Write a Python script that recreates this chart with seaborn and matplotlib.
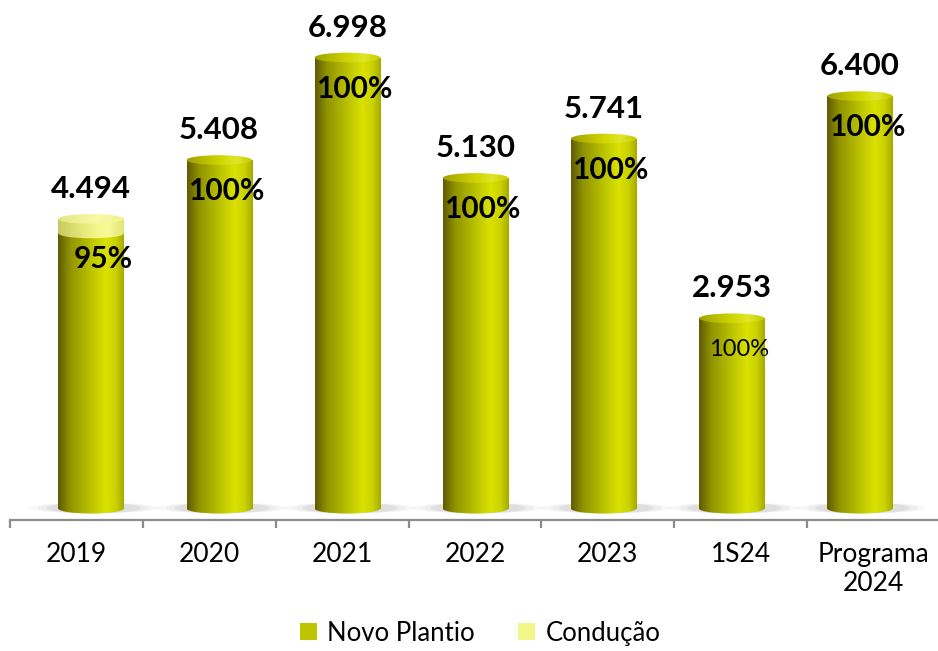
import numpy as np
import pandas as pd
import seaborn as sns
import matplotlib.pyplot as plt
from matplotlib.patches import Ellipse, Rectangle
from matplotlib.colors import LinearSegmentedColormap

categories = ["2019", "2020", "2021", "2022", "2023", "1S24", "Programa\n2024"]
totals = [4.494, 5.408, 6.998, 5.130, 5.741, 2.953, 6.400]
novo_share = [0.95, 1, 1, 1, 1, 1, 1]
total_labels = ["4.494", "5.408", "6.998", "5.130", "5.741", "2.953", "6.400"]
pct_labels = ["95%", "100%", "100%", "100%", "100%", "100%", "100%"]
pct_bold = [True, True, True, True, True, False, True]

novo = [t * s for t, s in zip(totals, novo_share)]
df = pd.DataFrame({"cat": categories, "total": totals, "novo": novo})

plt.rcParams["font.family"] = ["Lato", "DejaVu Sans"]

NOVO = "#BDC500"
COND = "#F2F78A"

body_novo = LinearSegmentedColormap.from_list(
    "bn", [(0, "#5E5A00"), (0.18, "#909300"), (0.5, "#BCC300"),
           (0.72, "#DAE200"), (0.88, "#CAD100"), (1, "#A4AA00")])
top_novo = LinearSegmentedColormap.from_list(
    "tn", [(0, "#A0A200"), (0.5, "#D0D600"), (0.75, "#E0E628"), (1, "#C4CA00")])
body_cond = LinearSegmentedColormap.from_list(
    "bc", [(0, "#C8CA60"), (0.5, "#EEF284"), (0.75, "#F8FB98"), (1, "#E2E57A")])
top_cond = LinearSegmentedColormap.from_list(
    "tc", [(0, "#E4E680"), (0.6, "#F8FAA4"), (1, "#EEF290")])

fig = plt.figure(figsize=(9.38, 6.51), dpi=100)
ax = fig.add_axes([27 / 938, 123 / 651, 897 / 938, 528 / 651])
sns.barplot(data=df, x="cat", y="total", color=COND, width=0.51, ax=ax)
sns.barplot(data=df, x="cat", y="novo", color=NOVO, width=0.51, ax=ax)

total_bars = list(ax.containers[0])
novo_bars = list(ax.containers[1])
for p in total_bars + novo_bars:
    p.set_visible(False)

eh = 0.15  # ellipse height in data units
grad = np.linspace(0, 1, 256).reshape(1, -1)


def gradient_in(patch, cmap, extent, z):
    ax.add_patch(patch)
    im = ax.imshow(grad, extent=extent, aspect="auto", cmap=cmap,
                   interpolation="bicubic", zorder=z)
    im.set_clip_path(patch)


def segment(x0, w, y0, y1, cmap, z):
    ext = [x0, x0 + w, y0 - eh, y1]
    gradient_in(Rectangle((x0, y0), w, y1 - y0, fc="none", lw=0), cmap, ext, z)
    gradient_in(Ellipse((x0 + w / 2, y0), w, eh, fc="none", lw=0), cmap, ext, z)


for i, (tb, nb) in enumerate(zip(total_bars, novo_bars)):
    x0, w = nb.get_x(), nb.get_width()
    cx = x0 + w / 2
    h_novo, h_tot = nb.get_height(), tb.get_height()

    # soft shadow at the base
    for k, a in [(2.0, 0.06), (1.7, 0.08), (1.45, 0.12)]:
        ax.add_patch(Ellipse((cx + 0.02, 0.01), w * k, eh * 1.1,
                             fc="#808080", alpha=a, lw=0, zorder=1))

    segment(x0, w, 0, h_novo, body_novo, 2)
    if h_tot - h_novo > 1e-6:
        segment(x0, w, h_novo, h_tot, body_cond, 3)
        top_cmap = top_cond
    else:
        top_cmap = top_novo
    gradient_in(Ellipse((cx, h_tot), w, eh, fc="none", lw=0), top_cmap,
                [x0, x0 + w, h_tot - eh, h_tot + eh], 4)

    ax.annotate(total_labels[i], xy=(cx, h_tot), xytext=(0, 30),
                textcoords="offset pixels", ha="center", va="center",
                fontsize=22.5, fontweight="bold", color="black", zorder=6)
    dy = -26 if i == 0 else -31
    dx = 12 if i == 0 else 7
    ax.annotate(pct_labels[i], xy=(cx, h_novo if i == 0 else h_tot),
                xytext=(dx, dy), textcoords="offset pixels",
                ha="center", va="center",
                fontsize=21.5 if pct_bold[i] else 17,
                fontweight="bold" if pct_bold[i] else "normal",
                color="black", zorder=6)

ax.set_xlim(-0.5, 6.5)
ax.set_ylim(-0.3, 7.89)
ax.axis("off")

# category axis
ax2 = fig.add_axes([10 / 938, 131 / 651, 930 / 938, 0.0001])
ax2.patch.set_visible(False)
ax2.set_xlim(0, 7)
ax2.set_yticks([])
for s in ["top", "left", "right"]:
    ax2.spines[s].set_visible(False)
ax2.spines["bottom"].set_color("#8C8C8C")
ax2.spines["bottom"].set_linewidth(1.6)
ax2.set_xticks(range(8))
ax2.set_xticklabels([])
ax2.tick_params(axis="x", which="major", length=6, width=1.6, color="#8C8C8C")
ax2.set_xticks(np.arange(len(categories)) + 0.5, minor=True)
ax2.set_xticklabels(categories, minor=True, fontsize=19)
ax2.tick_params(axis="x", which="minor", length=0, pad=16)

fig.legend(handles=[Rectangle((0, 0), 1, 1, fc=NOVO), Rectangle((0, 0), 1, 1, fc=COND)],
           labels=["Novo Plantio", "Condução"], loc="center",
           bbox_to_anchor=(0.512, 0.027), ncol=2, frameon=False, fontsize=18.5,
           handlelength=0.65, handleheight=0.65, handletextpad=0.4,
           columnspacing=1.7)

fig.savefig("out.png", dpi=100)
